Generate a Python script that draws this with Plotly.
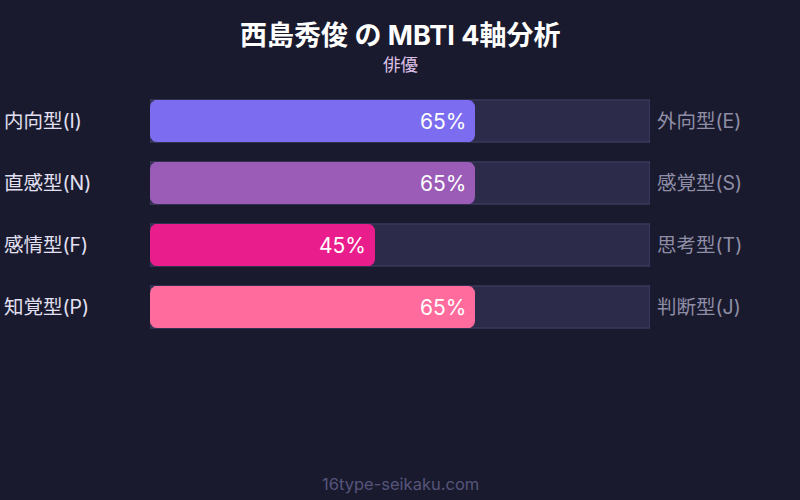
import numpy as np
import plotly.graph_objects as go

left_labels = ['内向型(I)', '直感型(N)', '感情型(F)', '知覚型(P)']
right_labels = ['外向型(E)', '感覚型(S)', '思考型(T)', '判断型(J)']
scores = [65, 65, 45, 65]
colors = ['#7b6cf0', '#9b5cb8', '#e91e8c', '#ff6b9d']

bg = '#1a1a2e'
font_family = 'Inter, Noto Sans CJK JP, sans-serif'
rows = list(range(len(scores)))
half = 0.34
# corner radius in axis units (x: 5 px/unit, y: 62 px/unit)
rx, ry = 1.4, 0.113


def rounded_bar(x1, yc):
    # rounded rectangle outline from 0 to x1, centred on row yc
    t = np.linspace(0, np.pi / 2, 8)
    y0, y1 = yc - half, yc + half
    corners = [
        (x1 - rx, y0 + ry, -1, -1, t[::-1]),
        (x1 - rx, y1 - ry, -1, 1, t),
        (rx, y1 - ry, 1, 1, t[::-1]),
        (rx, y0 + ry, 1, -1, t),
    ]
    xs, ys = [], []
    for cx, cy, sx, sy, tt in corners:
        xs += list(cx - sx * rx * np.cos(tt) if sx < 0 else cx - rx * np.cos(tt))
        ys += list(cy + sy * ry * np.sin(tt))
    xs.append(xs[0])
    ys.append(ys[0])
    return xs, ys


fig = go.Figure()

# background track
fig.add_trace(go.Bar(
    x=[100] * len(rows), y=rows, orientation='h', width=2 * half,
    marker=dict(color='#2c2b4a', line=dict(color='#45446a', width=1)),
    hoverinfo='skip', showlegend=False,
))

# score bars
for i, (s, c) in enumerate(zip(scores, colors)):
    xs, ys = rounded_bar(s, i)
    fig.add_trace(go.Scatter(
        x=xs, y=ys, mode='lines', fill='toself', fillcolor=c,
        line=dict(width=0, color=c), hoverinfo='skip', showlegend=False,
    ))

annotations = []
for i, (l, r, s) in enumerate(zip(left_labels, right_labels, scores)):
    annotations.append(dict(x=s, y=i, xref='x', yref='y', text=f'{s}%',
                            xanchor='right', xshift=-7, showarrow=False,
                            font=dict(size=21, color='white', family=font_family)))
    annotations.append(dict(x=-0.296, y=i, xref='paper', yref='y', text=l,
                            xanchor='left', showarrow=False,
                            font=dict(size=19.5, color='#e2e0f2', family=font_family)))
    annotations.append(dict(x=1, y=i, xref='paper', yref='y', text=r,
                            xanchor='left', xshift=5, showarrow=False,
                            font=dict(size=19.5, color='#8f8ea6', family=font_family)))

annotations += [
    dict(x=0.5, y=35, xref='paper', yref='y2', text='<b>西島秀俊 の MBTI 4軸分析</b>',
         showarrow=False, font=dict(size=27, color='white', family=font_family)),
    dict(x=0.5, y=64, xref='paper', yref='y2', text='俳優',
         showarrow=False, font=dict(size=17.5, color='#dcc0e6', family=font_family)),
    dict(x=0.5, y=484, xref='paper', yref='y2', text='16type-seikaku.com',
         showarrow=False, font=dict(size=16.5, color='#55557a', family=font_family)),
]

fig.update_layout(
    width=800, height=500,
    paper_bgcolor=bg, plot_bgcolor=bg,
    margin=dict(l=150, r=150, t=0, b=0),
    barmode='overlay',
    xaxis=dict(range=[0, 100], visible=False, fixedrange=True),
    yaxis=dict(range=[6.113, -1.9516], visible=False, fixedrange=True),
    yaxis2=dict(range=[500, 0], overlaying='y', visible=False),
    annotations=annotations,
)

fig.write_html('out.html', config={'displayModeBar': False},
               post_script="document.body.style.margin='0';document.body.style.overflow='hidden';")
